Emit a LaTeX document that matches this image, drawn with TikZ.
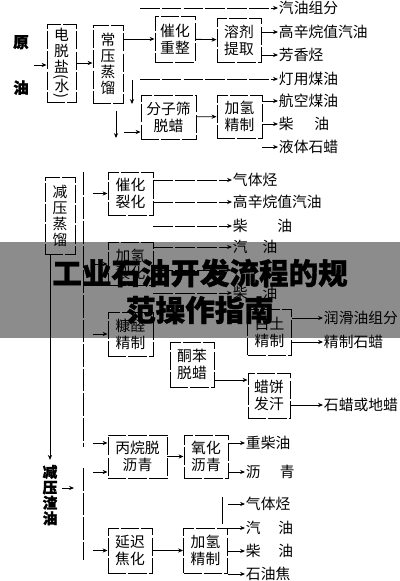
\documentclass[tikz,border=0pt]{standalone}
\usepackage{fontspec}
\usepackage{tikz}
\usetikzlibrary{arrows.meta}
\newfontfamily\cjk{Noto Sans CJK SC}[BoldFeatures={FakeBold=1.2}]
\tikzset{
  >={Stealth[length=3.5pt,width=3pt]},
  boxsize/.style 2 args={minimum width=#1*0.025cm, minimum height=#2*0.025cm},
  unit/.style={draw, line width=0.7pt, dash pattern=on 13pt off 1.5pt, inner sep=0pt, align=center, font=\cjk\fontsize{10.5}{12}\selectfont},
  tall/.style={unit, font=\cjk\fontsize{10.5}{11.4}\selectfont},
  prod/.style={anchor=west, inner sep=0.5pt, font=\cjk\fontsize{10.5}{12}\selectfont},
  flow/.style={->, line width=0.6pt},
  longflow/.style={flow, dash pattern=on 14pt off 1.5pt},
  rail/.style={line width=0.6pt, dash pattern=on 16pt off 1.5pt},
  banner/.style={inner sep=0pt, text=black, font=\cjk\bfseries\fontsize{21}{24}\selectfont},
}

\begin{document}
\begin{tikzpicture}[x=0.025cm,y=-0.025cm]
\path[use as bounding box, fill=white] (0,0) rectangle (400,581);

% atmospheric part
\node[font=\cjk\bfseries\fontsize{11}{12}\selectfont, align=center] (crude) at (21,65) {原\\[0.72cm]油};
\node[tall, boxsize={29}{78}] (salt) at (61.5,63) {电\\脱\\盐\\\rotatebox[origin=c]{-90}{(\rotatebox[origin=c]{90}{水})}};
\node[tall, boxsize={30}{78}] (atm) at (108,64) {常\\压\\蒸\\馏};
\node[unit, boxsize={40}{46}] (reform) at (175,39) {催化\\重整};
\node[unit, boxsize={44}{44}] (extract) at (239,40) {溶剂\\提取};
\node[unit, boxsize={55}{44}] (sieve) at (168.5,117) {分子筛\\脱蜡};
\node[unit, boxsize={45}{43}] (hydtop) at (239.5,116.5) {加氢\\精制};

\node[prod] (gascomp) at (278,8) {汽油组分};
\node[prod] (octane) at (278,32) {高辛烷值汽油};
\node[prod] (arom) at (278,55) {芳香烃};
\node[prod] (lamp) at (278,79) {灯用煤油};
\node[prod] (jet) at (278,101) {航空煤油};
\node[prod] (diesel) at (278,124) {柴\hspace{1.4em}油};
\node[prod] (lwax) at (278,147) {液体石蜡};

\draw[flow] (crude.east) -- (crude.east -| salt.west);
\draw[flow] (salt.east |- 0,63) -- (atm.west |- 0,63);
\draw[flow] (atm.east |- reform) -- (reform.west);
\draw[flow] (reform) -- (extract);
\draw[flow] (extract.east |- octane) -- (octane.west);
\draw[flow] (extract.east |- arom) -- (arom.west);
\coordinate (g1) at (140,8);
\coordinate (g2) at (140,79);
\draw[longflow] (g1) -- (gascomp.west);
\draw[longflow] (g2) -- (lamp.west);
\coordinate (d1) at (132,80);
\coordinate (d2) at (116,111);
\coordinate (d3) at (124,132);
\draw[flow] (d1) -- ++(0,24);
\draw[flow] (d2) -- ++(0,27);
\draw[flow] (d3) -- (sieve.west |- d3);
\draw[flow] (sieve) -- (hydtop);
\draw[flow] (hydtop.east |- jet) -- (jet.west);
\draw[flow] (hydtop.east |- diesel) -- (diesel.west);
\draw[flow] (hydtop.east |- lwax) -- (lwax.west);

% vacuum part
\node[tall, boxsize={30}{77}] (vac) at (60,216) {减\\压\\蒸\\馏};
\coordinate (bt) at (83,172);
\coordinate (bm1) at (83,447);
\coordinate (bm2) at (83,468);
\coordinate (bb) at (83,560);
\draw[rail] (bt) -- (bm1);
\draw[rail] (bm2) -- (bb);

\node[unit, boxsize={45}{43}] (fcc) at (130.5,193.5) {催化\\裂化};
\node[unit, boxsize={45}{43}] (hcrack) at (130.5,264) {加氢\\裂化};
\node[unit, boxsize={45}{44}] (furf) at (130.5,334) {糠醛\\精制};
\node[unit, boxsize={44}{46}] (clay) at (269.5,332) {白土\\精制};
\node[unit, boxsize={44}{45}] (mek) at (192,364.5) {酮苯\\脱蜡};
\node[unit, boxsize={42}{45}] (sweat) at (269,395.5) {蜡饼\\发汗};

\node[prod] (gas2) at (232,180) {气体烃};
\node[prod] (oct2) at (232,202) {高辛烷值汽油};
\node[prod] (dies2) at (232,226) {柴\hspace{2em}油};
\node[prod] (gaso3) at (232,247) {汽\hspace{1em}油};
\coordinate (hc2) at (231,270);
\node[prod] (dies3) at (232,293) {柴\hspace{1em}油};
\node[prod] (lube) at (323,318) {润滑油组分};
\node[prod] (pwax) at (323,342) {精制石蜡};
\node[prod] (wax) at (323,405) {石蜡或地蜡};

\draw[flow] ([xshift=-0.375cm]fcc.west) -- (fcc.west);
\draw[flow] ([xshift=-0.375cm]hcrack.west) -- (hcrack.west);
\draw[flow] ([xshift=-0.375cm]furf.west) -- (furf.west);
\draw[longflow] (fcc.east |- gas2) -- (gas2.west);
\draw[longflow] (fcc.east |- oct2) -- (oct2.west);
\draw[longflow] (fcc.east |- dies2) -- (dies2.west);
\draw[longflow] (hcrack.east |- gaso3) -- (gaso3.west);
\draw[longflow] (hcrack.east |- hc2) -- (hc2);
\draw[longflow] (hcrack.east |- dies3) -- (dies3.west);
\draw[flow] (clay.east |- lube) -- (lube.west);
\draw[flow] (clay.east |- pwax) -- (pwax.west);
\draw[flow] (mek.east |- 0,380) -- (sweat.west |- 0,380);
\draw[flow] (sweat.east |- wax) -- (wax.west);

% residue part
\node[font=\cjk\bfseries\fontsize{10.5}{11}\selectfont, align=center] (resid) at (50,495) {减\\压\\渣\\油};
\draw[flow] (vac.south -| resid.north) -- (resid.north);
\coordinate (r1) at (74,488);
\draw[flow] (resid.east |- r1) -- (r1);

\node[unit, boxsize={59}{43}] (pda) at (137.5,456.5) {丙烷脱\\沥青};
\node[unit, boxsize={44}{43}] (oxasp) at (206,456.5) {氧化\\沥青};
\node[unit, boxsize={44}{45}] (coker) at (130,550.5) {延迟\\焦化};
\node[unit, boxsize={44}{45}] (hydbot) at (205.5,550.5) {加氢\\精制};

\node[prod] (hfo) at (245,443) {重柴油};
\node[prod] (asph) at (245,472) {沥\hspace{1.3em}青};
\node[prod] (gas4) at (245,504) {气体烃};
\node[prod] (gaso4) at (245,528) {汽\hspace{1.2em}油};
\node[prod] (dies4) at (245,551) {柴\hspace{1.2em}油};
\node[prod] (coke) at (245,574) {石油焦};

\coordinate (p1) at (93,443);
\coordinate (p2) at (93,472);
\draw[flow] (p1) -- (pda.west |- p1);
\draw[flow] (p2) -- (pda.west |- p2);
\draw[flow] (pda) -- (oxasp);
\draw[flow] (oxasp.east |- hfo) -- (hfo.west);
\draw[flow] (oxasp.east |- asph) -- (asph.west);
\draw[flow, line width=0.9pt] ([xshift=-0.375cm]coker.west) -- (coker.west);
\draw[flow] (coker) -- (hydbot);
\coordinate (v1) at (222,497);
\coordinate (v2) at (222,524);
\draw[line width=0.6pt] (v1) -- (v2);
\draw[flow] (hydbot.east |- gas4) -- (gas4.west);
\draw[flow] (hydbot.east |- gaso4) -- (gaso4.west);
\draw[flow] (hydbot.east |- dies4) -- (dies4.west);
\draw[flow] (hydbot.east |- coke) -- (coke.west);

% banner
\fill[black, opacity=0.45] (0,242) rectangle (400,338);
\node[banner] (title1) at (200,273) {工业石油开发流程的规};
\node[banner] (title2) at (200,310) {范操作指南};
\end{tikzpicture}
\end{document}
